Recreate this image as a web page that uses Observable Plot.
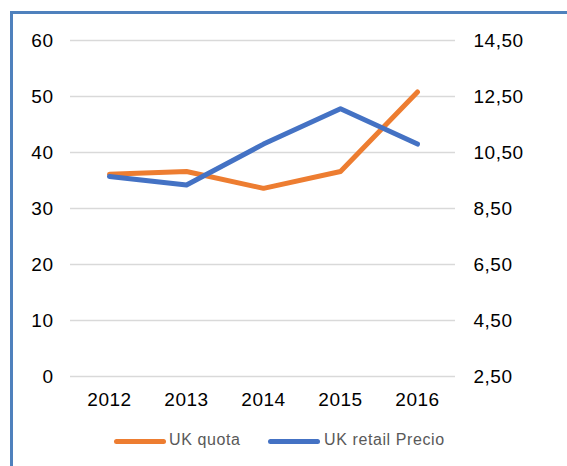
<!DOCTYPE html>
<html>
<head>
<meta charset="utf-8">
<script src="https://cdn.jsdelivr.net/npm/d3@7"></script>
<script src="https://cdn.jsdelivr.net/npm/@observablehq/plot@0.6"></script>
<style>
  html, body { margin: 0; padding: 0; background: #fff; }
  #wrap { position: relative; width: 567px; height: 466px; overflow: hidden; font-family: "Liberation Sans", Arial, sans-serif; }
  #frame { position: absolute; left: 10px; top: 11px; right: -10px; bottom: -10px; border-left: 3px solid #4f81bd; border-top: 3px solid #4f81bd; }
  #chart { position: absolute; left: 0; top: 0; }
  #chart svg text { letter-spacing: 0.5px; }
  #legend { position: absolute; left: 0; top: 420px; width: 567px; height: 46px; }
  .sw { position: absolute; height: 5px; border-radius: 3px; top: 19px; }
  .lt { position: absolute; top: 11px; font-size: 16px; color: #595959; letter-spacing: 0.6px; white-space: nowrap; }
</style>
</head>
<body>
<div id="wrap">
  <div id="frame"></div>
  <div id="chart"></div>
  <div id="legend"></div>
</div>
<script>
const years = [2012, 2013, 2014, 2015, 2016];
const quota = [36.1, 36.6, 33.6, 36.6, 50.8];
const price = [9.64, 9.34, 10.8, 12.06, 10.8];
const leftTicks = [0, 10, 20, 30, 40, 50, 60];
const rightTicks = [2.5, 4.5, 6.5, 8.5, 10.5, 12.5, 14.5];
const seriesNames = ["UK quota", "UK retail Precio"];
const seriesColors = ["#ed7d31", "#4472c4"];

const leftMax = 60;
const pMin = rightTicks[0], pMax = rightTicks[rightTicks.length - 1];
const toLeft = p => (p - pMin) / (pMax - pMin) * leftMax;

const rows = [];
years.forEach((y, i) => rows.push({year: String(y), v: quota[i], s: seriesNames[0]}));
years.forEach((y, i) => rows.push({year: String(y), v: toLeft(price[i]), s: seriesNames[1]}));

const fmtRight = p => p.toFixed(2).replace(".", ",");

const chart = Plot.plot({
  width: 567,
  height: 420,
  marginLeft: 70,
  marginRight: 112,
  marginTop: 40,
  marginBottom: 44,
  style: {fontFamily: "Liberation Sans, Arial, sans-serif", fontSize: "19px", color: "#000", background: "transparent"},
  x: {type: "point", domain: years.map(String), padding: 0.5},
  y: {domain: [0, leftMax]},
  color: {domain: seriesNames, range: seriesColors},
  marks: [
    Plot.ruleY(leftTicks, {stroke: "#d9d9d9", strokeWidth: 1.5}),
    Plot.axisY(leftTicks, {anchor: "left", tickSize: 0, tickPadding: 17, label: null, fontSize: 19, fill: "#000"}),
    Plot.axisY(rightTicks.map(toLeft), {anchor: "right", tickSize: 0, tickPadding: 18, label: null, fontSize: 19, fill: "#000",
      tickFormat: v => fmtRight(pMin + v / leftMax * (pMax - pMin))}),
    Plot.axisX({anchor: "bottom", tickSize: 0, tickPadding: 16, label: null, fontSize: 19, fill: "#000"}),
    Plot.line(rows, {x: "year", y: "v", z: "s", stroke: "s", strokeWidth: 5, strokeLinecap: "round", strokeLinejoin: "round"})
  ]
});
document.getElementById("chart").appendChild(chart);

const legend = document.getElementById("legend");
const legendPos = [{sw: 114, w: 52, t: 169}, {sw: 268, w: 52, t: 324}];
seriesNames.forEach((n, i) => {
  const sw = document.createElement("div");
  sw.className = "sw";
  sw.style.left = legendPos[i].sw + "px";
  sw.style.width = legendPos[i].w + "px";
  sw.style.background = seriesColors[i];
  legend.appendChild(sw);
  const t = document.createElement("div");
  t.className = "lt";
  t.style.left = legendPos[i].t + "px";
  t.textContent = n;
  legend.appendChild(t);
});
</script>
</body>
</html>
